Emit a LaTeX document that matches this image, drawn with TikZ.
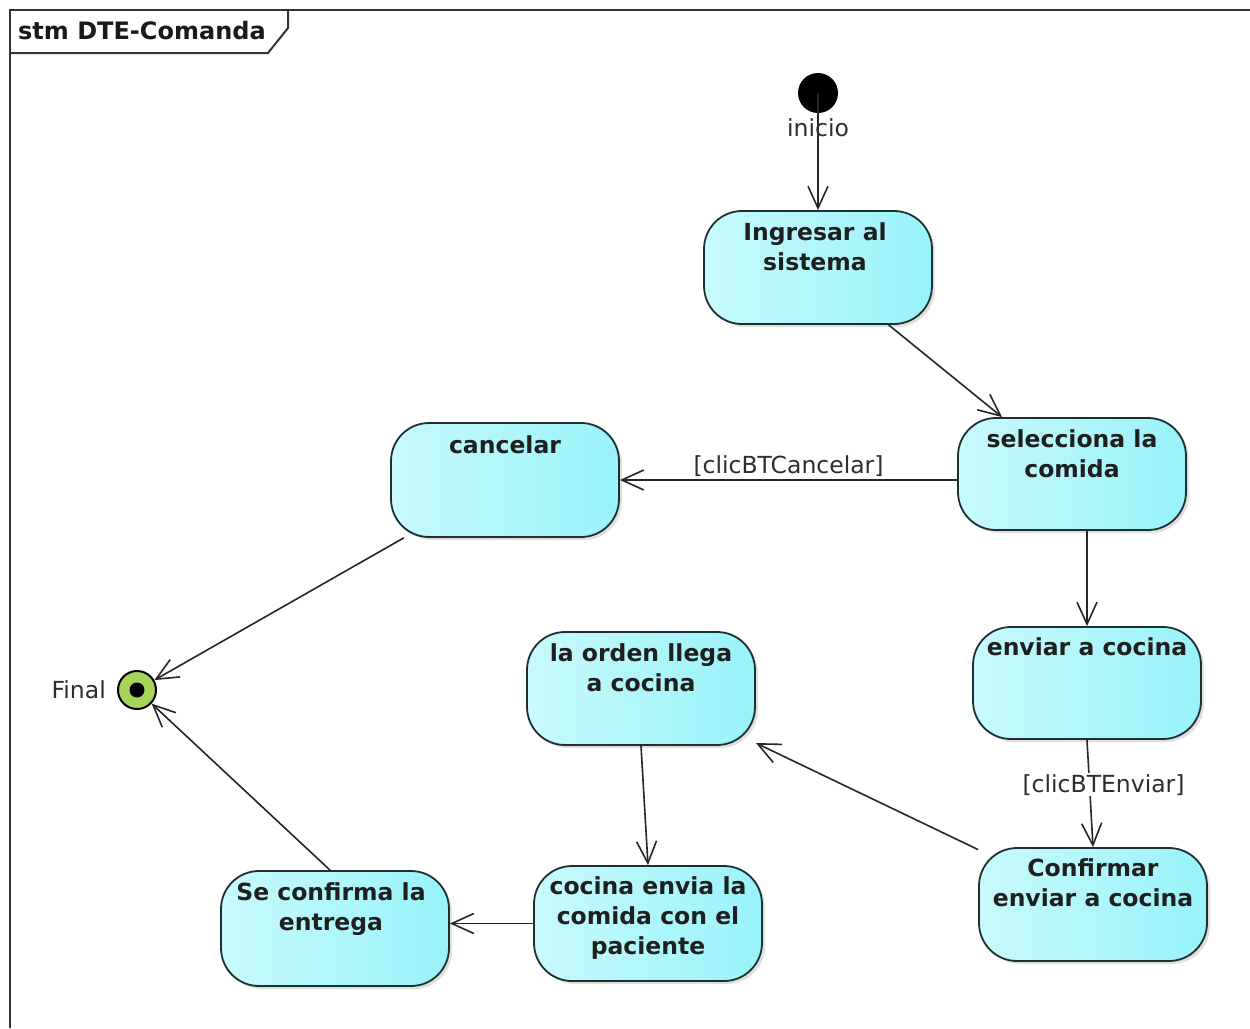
\documentclass[tikz,border=0pt]{standalone}
\usepackage{fontspec}
\setmainfont{DejaVu Sans}
\usetikzlibrary{arrows.meta,shadows}
\definecolor{boxlight}{RGB}{200,250,252}
\definecolor{boxcyan}{RGB}{152,243,250}
\definecolor{boxedge}{RGB}{28,48,52}
\definecolor{finalgreen}{RGB}{168,212,92}
\definecolor{labelgray}{RGB}{45,45,50}
\begin{document}
\begin{tikzpicture}[x=1pt,y=-1pt,
  statebox/.style={draw=boxedge, line width=1.8pt, rounded corners=38pt,
    minimum width=228pt, minimum height=113pt, inner sep=0pt,
    left color=boxlight, right color=boxcyan,
    drop shadow={shadow xshift=3pt, shadow yshift=-3pt, opacity=0.25}},
  statetext/.style={font=\fontsize{23.5}{30}\selectfont\bfseries, align=center,
    anchor=north, inner sep=0pt, text=black!88},
  plainlabel/.style={font=\fontsize{23.5}{28}\selectfont, text=labelgray, inner sep=1pt},
  trans/.style={draw=black!85, line width=1.6pt,
    -{Straight Barb[length=22pt,width=20pt,line width=1.6pt]}},
  framepen/.style={draw=black!80, line width=2pt}]

\useasboundingbox (0,0) rectangle (1250,1028);
\fill[white] (0,0) rectangle (1250,1028);

% diagram frame and name tab
\draw[framepen] (10,1028) -- (10,10) -- (1250,10);
\draw[framepen] (288,10) -- (288,28) -- (268,53) -- (10,53);
\node[font=\fontsize{24}{28}\selectfont\bfseries, anchor=west, inner sep=0pt, text=black!90]
  (frametitle) at (18,31) {stm DTE-Comanda};

% pseudo states
\node[circle, fill=black, minimum size=40pt, inner sep=0pt] (init) at (818,93) {};
\node[circle, draw=black, line width=2pt, fill=finalgreen, minimum size=38pt, inner sep=0pt] (final) at (137,690) {};
\node[circle, fill=black, minimum size=15pt, inner sep=0pt] (finaldot) at (final.center) {};

% states
\node[statebox] (ingresar) at (818,267.5) {};
\node[statebox, minimum height=112pt] (selecciona) at (1072,474) {};
\node[statebox, minimum height=114pt] (cancelar) at (505,480) {};
\node[statebox, minimum height=112pt] (enviar) at (1087,683) {};
\node[statebox] (orden) at (641,688.5) {};
\node[statebox] (confirmar) at (1093,904.5) {};
\node[statebox, minimum height=115pt] (cocina) at (648,923.5) {};
\node[statebox, minimum height=115pt] (entrega) at (335,928.5) {};

\node[statetext] (ingresarT) at ([xshift=-3pt,yshift=-12pt]ingresar.north) {Ingresar al\\sistema};
\node[statetext] (seleccionaT) at ([yshift=-12pt]selecciona.north) {selecciona la\\comida};
\node[statetext] (cancelarT) at ([yshift=-13pt]cancelar.north) {cancelar};
\node[statetext] (enviarT) at ([yshift=-11pt]enviar.north) {enviar a cocina};
\node[statetext] (ordenT) at ([yshift=-12pt]orden.north) {la orden llega\\a cocina};
\node[statetext] (confirmarT) at ([yshift=-11pt]confirmar.north) {Confirmar\\enviar a cocina};
\node[statetext] (cocinaT) at ([yshift=-11pt]cocina.north) {cocina envia la\\comida con el\\paciente};
\node[statetext] (entregaT) at ([xshift=-4pt,yshift=-12pt]entrega.north) {Se confirma la\\entrega};

% transitions
\draw[trans] (init.center) -- (ingresar.north);
\node[plainlabel] (inicioL) at (818,128) {inicio};
\draw[trans] (ingresar) -- (selecciona);
\draw[trans] (selecciona.west |- cancelar.east) -- node[plainlabel, above=2pt] (cancelL) {[clicBTCancelar]} (cancelar.east);
\draw[trans] (enviar.north |- selecciona.south) -- (enviar.north);
\draw[trans] (enviar.south) -- node[plainlabel, fill=white, pos=0.42, xshift=14pt] (enviarL) {[clicBTEnviar]} (confirmar.north);
\draw[trans] (confirmar) -- (orden);
\draw[trans] (orden.south) -- (cocina.north);
\draw[trans] (cocina.west) -- (cocina.west -| entrega.east);
\draw[trans] ([xshift=-5pt]entrega.north) -- (final);
\draw[trans] (cancelar) -- (final);
\node[plainlabel, anchor=east] (finalL) at (107,690) {Final};

\end{tikzpicture}
\end{document}
